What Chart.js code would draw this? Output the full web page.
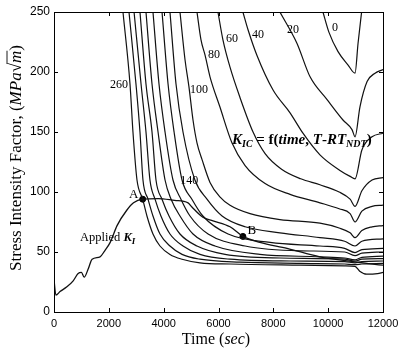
<!DOCTYPE html>
<html>
<head>
<meta charset="utf-8">
<script src="https://cdn.jsdelivr.net/npm/chart.js@4.4.1/dist/chart.umd.min.js"></script>
<style>
  html, body { margin: 0; padding: 0; background: #fff; }
  #wrap { width: 400px; height: 356px; }
</style>
</head>
<body>
<div id="wrap"><canvas id="c" width="400" height="356"></canvas></div>
<script>
// Axis ticks
const timeTicks = [0, 2000, 4000, 6000, 8000, 10000, 12000];
const kTicks = [0, 50, 100, 150, 200, 250];

// Fracture toughness curves K_IC(time) for each T - RT_NDT value, [time (s), K (MPa√m)]
const kic0   = [[9810,250],[10030,233],[10360,217],[10720,206],[10980,199],[11090,224],[11230,252]];
const kic20  = [[8240,250],[8860,224],[9340,196],[9960,177],[10540,160],[10870,152],[10980,146],[11160,171],[11420,192],[11710,199],[12000,202]];
const kic40  = [[6890,250],[7080,235],[7400,214],[7990,185],[8610,166],[9080,149],[9700,131],[10430,118],[10800,113],[10980,111],[11230,135],[11600,146],[12000,149]];
const kic60  = [[5980,250],[6160,227],[6420,204],[6780,179],[7260,150],[7700,132],[8300,119],[9000,111],[9700,106],[10400,100],[10800,94],[10980,88],[11230,101],[11600,110],[12000,112]];
const kic80  = [[5215,250],[5360,227],[5510,214],[5690,196],[6050,171],[6490,141],[6970,122],[7700,107],[8610,98],[9700,91],[10400,86],[10800,82],[10980,75],[11230,84],[11600,88],[12000,89]];
const kic100 = [[4595,250],[4780,210],[4920,188],[5070,160],[5215,141],[5400,127],[5690,108],[6050,96],[6420,89],[7150,82],[8240,77],[9700,74],[10400,70],[10800,66],[10980,62],[11230,68],[11600,71],[12000,72]];
const kic120 = [[4230,250],[4450,190],[4705,150],[5140,110],[5580,94],[6130,80],[6970,71],[8240,66],[9700,62],[10600,59],[10980,55],[11230,59],[12000,61]];
const kic140 = [[3940,250],[4160,190],[4380,150],[4670,110],[5030,94],[5430,80],[6350,65],[7880,58],[9700,55],[10600,53],[10980,49.5],[11230,52],[12000,53]];
const kic160 = [[3610,250],[3830,190],[4050,150],[4340,110],[4630,94],[4960,80],[5620,65],[6970,55],[8970,51],[10600,50],[10980,47],[11230,49],[12000,50]];
const kic180 = [[3355,250],[3575,190],[3795,150],[4050,110],[4270,94],[4595,80],[5070,65],[5870,55],[7510,48],[9700,46],[10600,45],[10980,43.5],[11230,45.5],[12000,46.5]];
const kic200 = [[3136,250],[3355,190],[3575,150],[3720,110],[3940,94],[4195,80],[4595,65],[5215,55],[6240,48],[8240,45],[10600,44],[10980,42.5],[11230,44],[12000,44.5]];
const kic220 = [[2920,250],[3175,190],[3355,150],[3500,110],[3685,94],[3900,80],[4230,65],[4705,55],[5325,48],[6420,44],[8610,42.5],[10600,42],[10980,41],[11230,42],[12000,42.5]];
const kic240 = [[2735,250],[2990,190],[3136,150],[3245,110],[3430,94],[3610,80],[3865,65],[4230,55],[4670,48],[5325,44],[6780,41.5],[8970,40.5],[10600,40],[10980,39.5],[11230,40],[12000,40.5]];
const kic260 = [[2516,250],[2772,190],[2880,150],[3027,110],[3235,94],[3390,80],[3610,65],[3865,55],[4230,48],[4670,44],[5325,41],[6420,40],[8970,39],[10600,38.5],[10980,38],[11150,34],[11400,31.5],[11800,32],[12000,33]];

// Applied stress intensity factor K_I(time)
const appliedK = [[0,27],[70,14],[220,17],[470,21],[700,26],[880,32],[1000,33],[1100,29],[1250,36],[1390,44],[1680,46],[1850,51],[2050,58],[2300,72],[2660,85],[2900,91],[3235,94],[3800,94.5],[4400,93],[4890,91],[5030,87.5],[5430,79],[5800,76],[6420,71],[6890,63],[7510,58],[8500,53],[9700,46],[10900,42],[12000,39]];

// Marked points A and B on the applied curve
const pointA = [3235, 94];
const pointB = [6890, 63];

// Curve tags: T - RT_NDT value written next to its curve, anchored in data units
const curveTags = [
  { text: '260', t: 2370, k: 189 },
  { text: '140', t: 4930, k: 109 },
  { text: '100', t: 5290, k: 185 },
  { text: '80',  t: 5840, k: 214 },
  { text: '60',  t: 6490, k: 228 },
  { text: '40',  t: 7440, k: 231 },
  { text: '20',  t: 8720, k: 235 },
  { text: '0',   t: 10250, k: 237 }
];

const kicCurves = [kic0, kic20, kic40, kic60, kic80, kic100, kic120, kic140, kic160, kic180, kic200, kic220, kic240, kic260];

const toXY = arr => arr.map(p => ({ x: p[0], y: p[1] }));

const SERIF = '"Liberation Serif", "Times New Roman", serif';
const SANS = '"Liberation Sans", Arial, sans-serif';

const lineStyle = {
  showLine: true,
  pointRadius: 0,
  borderColor: '#111',
  borderWidth: 1.2,
  cubicInterpolationMode: 'monotone',
  fill: false
};

const datasets = kicCurves.map(c => Object.assign({ data: toXY(c) }, lineStyle));
datasets.push(Object.assign({ data: toXY(appliedK) }, lineStyle, { borderWidth: 1.3 }));
datasets.push({
  data: toXY([pointA, pointB]),
  showLine: false,
  pointRadius: 3,
  pointBackgroundColor: '#000',
  pointBorderColor: '#000'
});

// Draws a run of differently styled text pieces starting at (x, y)
function drawRuns(ctx, runs, x, y, align) {
  let total = 0;
  runs.forEach(r => { ctx.font = r.font; r.w = ctx.measureText(r.s).width; total += r.w; });
  let cx = align === 'center' ? x - total / 2 : x;
  runs.forEach(r => {
    ctx.font = r.font;
    ctx.fillText(r.s, cx, y + (r.dy || 0));
    r.x0 = cx;
    cx += r.w;
  });
  return runs;
}

const frameAndText = {
  id: 'frameAndText',
  afterDatasetsDraw(chart) {
    const ctx = chart.ctx;
    const a = chart.chartArea;
    const xs = chart.scales.x, ys = chart.scales.y;
    ctx.save();
    ctx.strokeStyle = '#000';
    ctx.fillStyle = '#000';

    // box around the plot
    ctx.lineWidth = 1;
    ctx.strokeRect(Math.round(a.left) + 0.5, Math.round(a.top) + 0.5,
                   Math.round(a.right - a.left), Math.round(a.bottom - a.top));

    // inward tick marks on all four sides
    const tl = 4;
    ctx.beginPath();
    timeTicks.forEach(v => {
      const px = Math.round(xs.getPixelForValue(v)) + 0.5;
      ctx.moveTo(px, a.bottom); ctx.lineTo(px, a.bottom - tl);
      ctx.moveTo(px, a.top); ctx.lineTo(px, a.top + tl);
    });
    kTicks.forEach(v => {
      const py = Math.round(ys.getPixelForValue(v)) + 0.5;
      ctx.moveTo(a.left, py); ctx.lineTo(a.left + tl, py);
      ctx.moveTo(a.right, py); ctx.lineTo(a.right - tl, py);
    });
    ctx.stroke();

    // curve tags
    ctx.textBaseline = 'middle';
    ctx.textAlign = 'center';
    ctx.font = '12px ' + SERIF;
    curveTags.forEach(tag => {
      ctx.fillText(tag.text, xs.getPixelForValue(tag.t), ys.getPixelForValue(tag.k));
    });

    // point names
    ctx.font = '13px ' + SERIF;
    ctx.fillText('A', xs.getPixelForValue(pointA[0]) - 9, ys.getPixelForValue(pointA[1]) - 5);
    ctx.fillText('B', xs.getPixelForValue(pointB[0]) + 9, ys.getPixelForValue(pointB[1]) - 6);

    // K_IC relation
    ctx.textAlign = 'left';
    ctx.textBaseline = 'alphabetic';
    const bi = 'bold italic ';
    const b = 'bold ';
    drawRuns(ctx, [
      { s: 'K', font: bi + '15px ' + SERIF },
      { s: 'IC', font: bi + '10px ' + SERIF, dy: 3 },
      { s: ' = f(', font: b + '15px ' + SERIF },
      { s: 'time', font: bi + '15px ' + SERIF },
      { s: ', ', font: b + '15px ' + SERIF },
      { s: 'T', font: bi + '15px ' + SERIF },
      { s: '-', font: b + '15px ' + SERIF },
      { s: 'RT', font: bi + '15px ' + SERIF },
      { s: 'NDT', font: bi + '10px ' + SERIF, dy: 3 },
      { s: ')', font: b + '15px ' + SERIF }
    ], 232, 144, 'left');

    // applied K label
    drawRuns(ctx, [
      { s: 'Applied ', font: '12.5px ' + SERIF },
      { s: 'K', font: bi + '12.5px ' + SERIF },
      { s: 'I', font: bi + '9px ' + SERIF, dy: 3 }
    ], 80, 241, 'left');

    // x axis title
    drawRuns(ctx, [
      { s: 'Time (', font: '16px ' + SERIF },
      { s: 'sec', font: 'italic 16px ' + SERIF },
      { s: ')', font: '16px ' + SERIF }
    ], 216, 344, 'center');

    // y axis title
    ctx.translate(16, 158);
    ctx.rotate(-Math.PI / 2);
    const runs = drawRuns(ctx, [
      { s: 'Stress Intensity Factor, (', font: '17px ' + SERIF },
      { s: 'MPa', font: 'italic 17px ' + SERIF },
      { s: '\u221A', font: '17px ' + SERIF },
      { s: 'm', font: 'italic 17px ' + SERIF },
      { s: ')', font: '17px ' + SERIF }
    ], 0, 5, 'center');
    const m = runs[3];
    ctx.lineWidth = 0.9;
    ctx.beginPath();
    ctx.moveTo(m.x0 - 1, -9);
    ctx.lineTo(m.x0 + m.w, -9);
    ctx.stroke();

    ctx.restore();
  }
};

new Chart(document.getElementById('c'), {
  type: 'scatter',
  data: { datasets },
  options: {
    responsive: false,
    animation: false,
    devicePixelRatio: 1,
    layout: { padding: { top: 12, right: 17, left: 0, bottom: 0 } },
    plugins: { legend: { display: false }, tooltip: { enabled: false } },
    scales: {
      x: {
        type: 'linear',
        min: 0, max: 12000,
        afterFit: s => { s.height = 44; s.paddingLeft = 0; s.paddingRight = 0; },
        afterBuildTicks: s => { s.ticks = timeTicks.map(v => ({ value: v })); },
        grid: { display: false, drawTicks: false },
        border: { display: false },
        ticks: { color: '#000', padding: 5, maxRotation: 0, font: { family: SANS, size: 11 }, callback: v => String(v) }
      },
      y: {
        type: 'linear',
        min: 0, max: 250,
        afterFit: s => { s.width = 54; s.paddingTop = 0; s.paddingBottom = 0; },
        afterBuildTicks: s => { s.ticks = kTicks.map(v => ({ value: v })); },
        grid: { display: false, drawTicks: false },
        border: { display: false },
        ticks: { color: '#000', padding: 4, font: { family: SANS, size: 12 }, callback: v => String(v) }
      }
    }
  },
  plugins: [frameAndText]
});
</script>
</body>
</html>
